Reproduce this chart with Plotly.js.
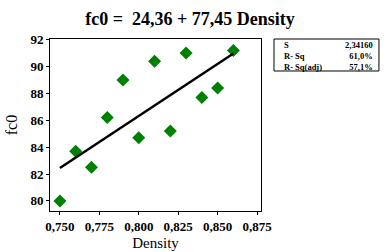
<!DOCTYPE html>
<html><head><meta charset="utf-8">
<script src="https://cdn.plot.ly/plotly-3.0.1.min.js"></script>
<style>html,body{margin:0;padding:0;background:#fff}#chart{width:388px;height:252px}</style>
</head><body><div id="chart"></div>
<script>
const density = [0.750, 0.760, 0.770, 0.780, 0.790, 0.800, 0.810, 0.820, 0.830, 0.840, 0.850, 0.860];
const fc0 = [80.0, 83.7, 82.5, 86.2, 89.0, 84.7, 90.4, 85.2, 91.0, 87.7, 88.4, 91.2];
const fitX = [0.750, 0.860];
const fitY = [82.45, 90.97];
const xTicks = [0.750, 0.775, 0.800, 0.825, 0.850, 0.875];
const xTickLabels = ["0,750", "0,775", "0,800", "0,825", "0,850", "0,875"];
const yTicks = [80, 82, 84, 86, 88, 90, 92];
const statLabels = ["S", "R- Sq", "R- Sq(adj)"];
const statValues = ["2,34160", "61,0%", "57,1%"];

const serif = "Liberation Serif";
const statFont = {family:serif, size:8.5, color:'#000', weight:'bold'};
const annotations = [
  {xref:'paper', yref:'paper', x:1.103, y:0.9, xanchor:'left', yanchor:'middle', align:'left',
   text:statLabels.join('<br>'), showarrow:false, borderpad:0, font:statFont},
  {xref:'paper', yref:'paper', x:1.537, y:0.9, xanchor:'right', yanchor:'middle', align:'right',
   text:statValues.join('<br>'), showarrow:false, borderpad:0, font:statFont}
];

const data = [
  {x: density, y: fc0, type:'scatter', mode:'markers',
   marker:{symbol:'diamond', size:10, color:'#008000'}, hoverinfo:'skip'},
  {x: fitX, y: fitY, type:'scatter', mode:'lines',
   line:{color:'#000', width:2.5}, hoverinfo:'skip'}
];
const layout = {
  width:388, height:252, showlegend:false,
  paper_bgcolor:'#fff', plot_bgcolor:'#fff',
  margin:{l:50, r:127, t:39, b:41},
  separators:',.',
  font:{family:serif},
  title:{text:'fc0 =  24,36 + 77,45 Density', x:0.49, xanchor:'center', y:0.925, yanchor:'middle',
    yref:'container', font:{family:serif, size:18, color:'#000', weight:'bold'}},
  xaxis:{range:[0.7437, 0.8775], tickvals:xTicks, ticktext:xTickLabels,
    showgrid:false, zeroline:false, showline:true, linecolor:'#000', linewidth:1, mirror:true,
    ticks:'outside', ticklen:3, tickcolor:'#000',
    tickfont:{family:serif, size:13, color:'#000', weight:'bold'},
    title:{text:'Density', standoff:4, font:{family:serif, size:15, color:'#000'}}},
  yaxis:{range:[79.25, 92.05], tickvals:yTicks,
    showgrid:false, zeroline:false, showline:true, linecolor:'#000', linewidth:1, mirror:true,
    ticks:'outside', ticklen:3, tickcolor:'#000',
    tickfont:{family:serif, size:13, color:'#000', weight:'bold'},
    title:{text:'fc0', standoff:8, font:{family:serif, size:16, color:'#000'}}},
  shapes:[{type:'rect', xref:'paper', yref:'paper', x0:1.0616, x1:1.559, y0:0.814, y1:1.0,
    line:{color:'#000', width:1}, fillcolor:'rgba(0,0,0,0)'}],
  annotations: annotations
};
Plotly.newPlot('chart', data, layout, {staticPlot:true, displayModeBar:false});
</script></body></html>
